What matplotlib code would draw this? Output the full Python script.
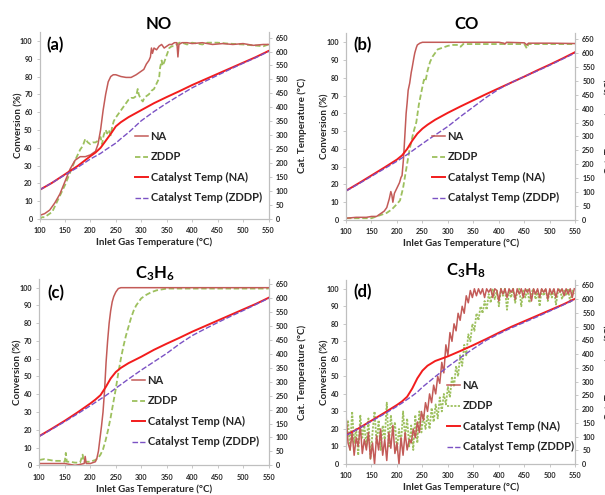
import numpy as np
import matplotlib
matplotlib.use("Agg")
import matplotlib.pyplot as plt

plt.rcParams['font.family'] = ['Lato', 'DejaVu Sans']
plt.rcParams['mathtext.fontset'] = 'custom'
plt.rcParams['mathtext.rm'] = 'Lato:bold'
plt.rcParams['mathtext.it'] = 'Lato:bold'
plt.rcParams['mathtext.bf'] = 'Lato:bold'

# ---------------- data ----------------
titles = ["NO", "CO", "C$_3$H$_6$", "C$_3$H$_8$"]
letters = ["(a)", "(b)", "(c)", "(d)"]
series_labels = ["NA", "ZDDP", "Catalyst Temp (NA)", "Catalyst Temp (ZDDP)"]
x_ticks = [100, 150, 200, 250, 300, 350, 400, 450, 500, 550]
conv_ticks = [0, 10, 20, 30, 40, 50, 60, 70, 80, 90, 100]
temp_ticks = [0, 50, 100, 150, 200, 250, 300, 350, 400, 450, 500, 550, 600, 650]

# catalyst temperature grid (inlet gas temperature, °C)
x_cat = [100, 125, 150, 175, 200, 210, 220, 230, 240, 250, 260, 275, 300,
         325, 350, 375, 400, 425, 450, 475, 500, 525, 550]

# (a) NO
a_na_x = [100, 110, 120, 125, 130, 140, 150, 160, 170, 180, 190, 200, 205, 210,
          215, 220, 225, 230, 235, 240, 245, 250, 255, 260, 270, 280, 290, 300,
          305, 310, 315, 318, 320, 322, 325, 330, 335, 340, 345, 350, 355, 360,
          365, 370, 372, 374, 380, 390, 400, 420, 440, 460, 480, 500, 520, 540, 550]
a_na_y = [2, 3, 5, 7, 9, 14, 21, 28, 33, 35, 35, 36, 37, 38,
          42, 50, 61, 70, 77, 80, 81, 81, 80.5, 80, 79.5, 79.5, 81, 83,
          84, 87, 89, 91, 96, 93, 96, 95, 97, 98, 96, 97, 98, 98,
          99, 99, 91, 98, 99, 99, 98.5, 99, 98, 98.5, 98, 98.5, 97.5, 98, 98]
a_zd_x = [100, 105, 110, 115, 120, 125, 130, 135, 140, 150, 160, 170, 180, 185,
          190, 195, 200, 205, 210, 215, 220, 223, 226, 230, 233, 236, 240, 243,
          246, 250, 255, 260, 265, 270, 275, 280, 285, 290, 293, 295, 298, 300,
          303, 306, 310, 315, 320, 325, 330, 335, 337, 340, 342, 345, 350, 355,
          360, 365, 370, 375, 380, 390, 400, 420, 430, 450, 470, 500, 520, 540, 550]
a_zd_y = [0, 1, 1, 2, 3, 4, 7, 10, 13, 19, 26, 33, 39, 41,
          45, 43, 42, 43, 43, 44, 46, 42, 47, 50, 48, 50, 47, 52,
          55, 57, 59, 61, 63, 65, 67, 68, 68, 69, 73, 70, 68, 67,
          66, 68, 69, 70, 72, 73, 76, 79, 85, 89, 86, 88, 92, 96,
          97, 97, 98, 99, 99, 98, 99, 98, 99, 99, 98.5, 98, 97.5, 97, 98]
a_cat_na = [104, 130, 160, 190, 225, 238, 255, 280, 305, 332, 347, 365, 390,
            415, 437, 458, 480, 500, 520, 540, 560, 580, 602]
a_cat_zd = [104, 130, 158, 185, 215, 225, 235, 248, 260, 272, 288, 310, 352,
            385, 415, 443, 470, 493, 515, 537, 558, 578, 600]

# (b) CO
b_na_x = [100, 120, 140, 150, 160, 170, 175, 180, 185, 188, 190, 192, 195, 200,
          205, 208, 210, 213, 216, 218, 220, 222, 225, 228, 230, 233, 235, 238,
          240, 245, 250, 300, 350, 400, 410, 412, 415, 450, 455, 458, 500, 550]
b_na_y = [1, 1.5, 1.5, 2, 2, 4, 5, 7, 12, 16, 14, 10, 15, 18,
          21, 24, 25, 35, 50, 60, 66, 73, 77, 83, 86, 91, 94, 97,
          98.5, 99.5, 100, 100, 100, 100, 99.5, 99, 100, 99.7, 98.5, 99.5, 99.5, 99.3]
b_zd_x = [100, 120, 140, 150, 160, 170, 180, 190, 200, 206, 212, 219, 225, 232,
          238, 243, 250, 253, 256, 260, 265, 270, 275, 280, 290, 300, 310, 320,
          325, 330, 350, 400, 450, 455, 458, 500, 550]
b_zd_y = [1, 1, 1, 1, 2, 3, 4, 6, 9, 11, 18, 30, 40, 49,
          55, 65, 75, 79, 78, 84, 89, 92, 94, 96, 97, 98, 98.5, 98.5,
          97.5, 99, 99, 99, 99, 96.5, 99, 99, 99]
b_cat_na = [105, 132, 160, 188, 217, 232, 255, 285, 310, 328, 342, 360, 385,
            408, 430, 452, 473, 494, 515, 537, 558, 580, 603]
b_cat_zd = [104, 130, 157, 184, 211, 223, 235, 248, 261, 274, 287, 305, 336,
            372, 406, 440, 470, 494, 515, 535, 556, 578, 600]

# (c) C3H6
c_na_x = [100, 120, 140, 150, 160, 170, 180, 188, 190, 192, 195, 200, 205, 210,
          213, 216, 219, 222, 225, 228, 231, 234, 237, 240, 243, 246, 250, 255,
          260, 300, 350, 400, 450, 500, 550]
c_na_y = [1, 1, 1, 1, 0.5, 0, 0.5, 1, 5, 1, 1, 1, 1.5, 2,
          4, 8, 15, 22, 30, 42, 58, 70, 80, 87, 92, 95, 97.5, 99.5,
          100, 100, 100, 100, 100, 100, 100]
c_zd_x = [100, 110, 120, 130, 140, 150, 152, 154, 160, 170, 180, 185, 187, 190,
          200, 205, 210, 215, 220, 225, 230, 235, 240, 245, 250, 255, 260, 265,
          270, 275, 280, 285, 290, 295, 300, 310, 320, 330, 340, 350, 400, 450,
          500, 550]
c_zd_y = [3, 3.5, 3, 2.5, 2.5, 2, 7, 2, 2, 1.5, 1.5, 6, 2, 2,
          2, 2.5, 3, 4, 6, 9, 14, 20, 27, 35, 43, 52, 60, 67,
          73, 78, 83, 87, 90, 92, 94, 96, 97.5, 98.5, 99, 99.5, 99.5, 99.5,
          99.5, 99.5]
c_cat_na = [105, 132, 160, 190, 222, 236, 252, 280, 312, 335, 350, 367, 390,
            415, 437, 458, 480, 500, 520, 540, 560, 580, 602]
c_cat_zd = [104, 130, 157, 185, 214, 226, 238, 250, 263, 277, 290, 310, 342,
            372, 402, 436, 466, 490, 513, 535, 556, 578, 600]

# (d) C3H8 (sampled every 4 °C from 100 to 548)
d_x = list(range(100, 549, 4))
d_na_y = [28, 12, 8, 18, 5, 15, 10, 22, 6, 14,
          8, 18, 3, 12, 0, 16, 8, 20, 5, 14,
          2, 18, 9, 22, 6, 12, 0, 15, 5, 18,
          8, 14, 12, 20, 15, 24, 18, 30, 25, 35,
          30, 40, 35, 45, 40, 50, 46, 58, 52, 68,
          62, 75, 70, 80, 76, 86, 82, 90, 86, 96,
          92, 99, 95, 100, 96, 100, 97, 100, 95, 100,
          98, 100, 95, 100, 99, 93, 100, 97, 100, 95,
          100, 98, 100, 94, 100, 97, 100, 95, 100, 98,
          100, 93, 100, 97, 100, 95, 100, 98, 100, 94,
          100, 97, 100, 95, 100, 98, 100, 96, 100, 97,
          100, 95, 100]
d_zd_y = [15, 25, 8, 30, 12, 20, 5, 28, 15, 22,
          10, 26, 3, 18, 30, 12, 25, 8, 22, 14,
          35, 10, 28, 16, 24, 8, 20, 12, 30, 15,
          26, 10, 22, 8, 28, 12, 30, 18, 28, 20,
          28, 20, 32, 24, 34, 26, 38, 30, 40, 34,
          44, 38, 50, 44, 56, 50, 62, 56, 68, 62,
          74, 70, 80, 76, 86, 82, 90, 86, 93, 88,
          97, 92, 100, 94, 99, 90, 100, 96, 100, 88,
          99, 95, 100, 92, 98, 100, 90, 99, 95, 100,
          92, 98, 100, 94, 99, 90, 100, 96, 100, 93,
          99, 95, 100, 91, 98, 100, 94, 99, 96, 100,
          92, 99, 97]
d_cat_na = [105, 130, 158, 186, 215, 228, 245, 275, 312, 340, 358, 375, 392,
            412, 433, 455, 478, 500, 520, 540, 560, 580, 602]
d_cat_zd = [104, 129, 156, 182, 210, 222, 235, 248, 262, 280, 295, 318, 354,
            388, 420, 450, 474, 496, 516, 536, 557, 578, 600]

panels = [
    (a_na_x, a_na_y, a_zd_x, a_zd_y, a_cat_na, a_cat_zd),
    (b_na_x, b_na_y, b_zd_x, b_zd_y, b_cat_na, b_cat_zd),
    (c_na_x, c_na_y, c_zd_x, c_zd_y, c_cat_na, c_cat_zd),
    (d_x, d_na_y, d_x, d_zd_y, d_cat_na, d_cat_zd),
]

# ---------------- layout (pixels) ----------------
W, H = 605, 495
# left, right, top, bottom of plot area
boxes = [(39.5, 268.5, 32.0, 219.0),
         (346.0, 575.3, 33.4, 220.0),
         (39.3, 268.7, 278.8, 465.3),
         (346.0, 575.3, 280.0, 464.0)]
title_pos = [(159, 28.7), (467, 29.0), (155, 278), (466, 275.7)]
letter_pos = [(46.7, 50.7), (353, 50), (47, 298), (353, 297)]
legend_pos = [(135, 131), (432, 131), (132, 375), (447, 380)]

C_NA = '#C35B58'
C_ZD = '#9DC05E'
C_CNA = '#F21C1C'
C_CZD = '#7B52C4'
SPINE = '#BFBFBF'
TXT = '#262626'

fig = plt.figure(figsize=(W / 100, H / 100), dpi=100)

for i, (nx, ny, zx, zy, cna, czd) in enumerate(panels):
    l, r, t, b = boxes[i]
    ax = fig.add_axes([l / W, 1 - b / H, (r - l) / W, (b - t) / H])
    ax2 = ax.twinx()
    ax.set_zorder(ax2.get_zorder() - 1) if False else None

    h1, = ax.plot(nx, ny, color=C_NA, lw=1.1, zorder=3)
    if i == 3:
        h2, = ax.plot(zx, zy, color=C_ZD, lw=1.3, linestyle=(0, (1.2, 0.8)), zorder=2)
    else:
        h2, = ax.plot(zx, zy, color=C_ZD, lw=1.3, linestyle=(0, (3, 1.5)), zorder=2)
    h3, = ax2.plot(x_cat, cna, color=C_CNA, lw=1.4)
    h4, = ax2.plot(x_cat, czd, color=C_CZD, lw=1.0, linestyle=(0, (4, 1.5)))

    ax.set_xlim(100, 550)
    ax.set_ylim(0, 105)
    ax2.set_ylim(0, 670)
    ax.set_xticks(x_ticks)
    ax.set_yticks(conv_ticks)
    ax2.set_yticks(temp_ticks)

    for a in (ax, ax2):
        for s in ['top']:
            a.spines[s].set_visible(False)
        for s in ['left', 'right', 'bottom']:
            a.spines[s].set_color(SPINE)
            a.spines[s].set_linewidth(0.8)
        a.tick_params(length=2.5, width=0.6, color=SPINE, labelsize=5.2,
                      labelcolor=TXT, pad=2.5)
        for lab in a.get_xticklabels() + a.get_yticklabels():
            lab.set_fontweight('bold')
    ax.tick_params(axis='x', pad=3.5)

    w_ax = r - l
    ax.set_xlabel("Inlet Gas Temperature (°C)", fontsize=7, fontweight='bold', color=TXT,
                  labelpad=2.5)
    ax.set_ylabel("Conversion (%)", fontsize=7, fontweight='bold', color=TXT)
    ax.yaxis.set_label_coords((23.0 - 39.5) / w_ax, 0.5)
    ax2.set_ylabel("Cat. Temperature (°C)", fontsize=7, fontweight='bold', color=TXT)
    ax2.yaxis.set_label_coords((297.7 - 39.5) / w_ax, 0.5)

    tx, ty = title_pos[i]
    fig.text(tx / W, 1 - ty / H, titles[i], fontsize=12, fontweight='bold',
             color='black', ha='center', va='baseline')
    lx, ly = letter_pos[i]
    fig.text(lx / W, 1 - ly / H, letters[i], fontsize=12, fontweight='bold',
             color='black', ha='left', va='baseline')

    gx, gy = legend_pos[i]
    leg = ax2.legend([h1, h2, h3, h4], series_labels, loc='upper left',
                     bbox_to_anchor=(gx / W, 1 - gy / H), bbox_transform=fig.transFigure,
                     frameon=False, fontsize=8, handlelength=1.2, handletextpad=0.2,
                     labelspacing=0.85, borderpad=0, borderaxespad=0)
    for txt in leg.get_texts():
        txt.set_fontweight('bold')
        txt.set_color(TXT)

fig.savefig("out.png", dpi=100)
